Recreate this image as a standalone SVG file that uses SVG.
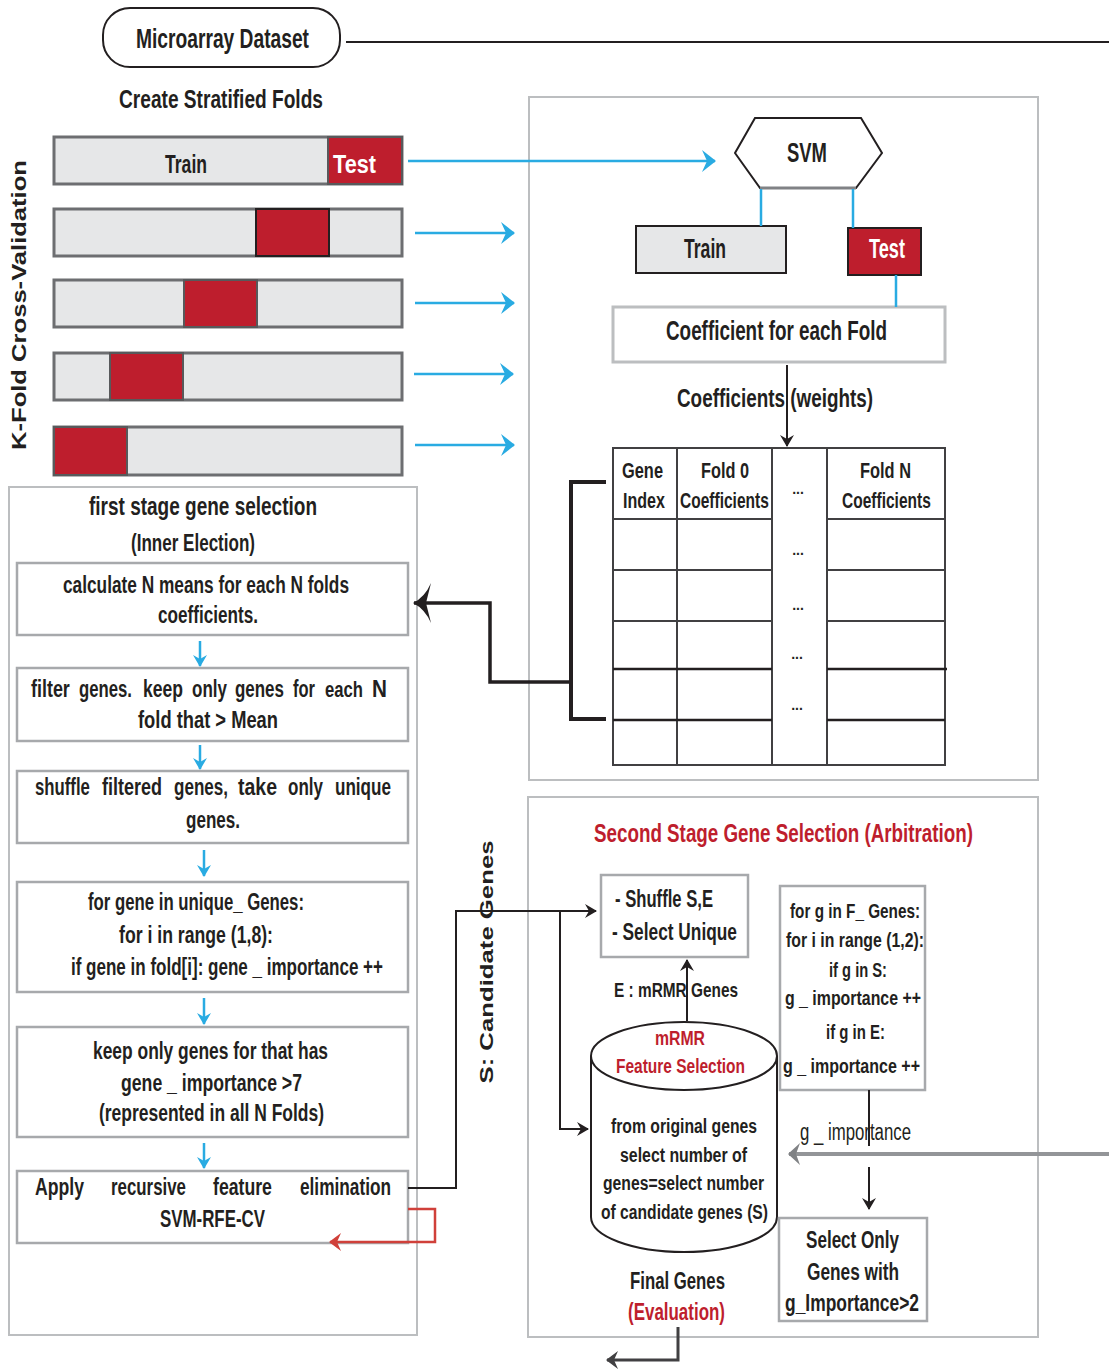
<svg xmlns="http://www.w3.org/2000/svg" width="1109" height="1371" viewBox="0 0 1109 1371">
<style>
.t{font-family:"Liberation Sans",Arial,sans-serif;font-weight:bold;fill:#231f20}
.n{font-weight:normal}
.w{fill:#ffffff}
.r{fill:#be1e2d}
.panel{fill:#ffffff;stroke:#bcbec0;stroke-width:2}
.box{fill:#ffffff;stroke:#a7a9ac;stroke-width:2.5}
.bar{fill:#e6e7e8;stroke:#6d6e71;stroke-width:3}
.red{fill:#be1e2d;stroke:#58595b;stroke-width:2}
.blue{stroke:#29abe2;stroke-width:2.5;fill:none}
.blk{stroke:#231f20;stroke-width:2;fill:none}
.tbl{stroke:#414042;stroke-width:2;fill:none}
</style>
<defs>
<marker id="ab" markerUnits="userSpaceOnUse" viewBox="0 0 14 22" refX="13" refY="11" markerWidth="14" markerHeight="22" orient="auto"><path d="M0,0 L14,11 L0,22 L5,11 z" fill="#29abe2"/></marker>
<marker id="as" markerUnits="userSpaceOnUse" viewBox="0 0 12 14" refX="11" refY="7" markerWidth="12" markerHeight="14" orient="auto"><path d="M0,0 L12,7 L0,14 L4,7 z" fill="#29abe2"/></marker>
<marker id="ak" markerUnits="userSpaceOnUse" viewBox="0 0 12 14" refX="11" refY="7" markerWidth="12" markerHeight="14" orient="auto"><path d="M0,0 L12,7 L0,14 L4,7 z" fill="#231f20"/></marker>
<marker id="akb" markerUnits="userSpaceOnUse" viewBox="0 0 18 40" refX="17" refY="20" markerWidth="18" markerHeight="40" orient="auto"><path d="M0,0 Q6,14 18,20 Q6,26 0,40 L5,20 z" fill="#231f20"/></marker>
<marker id="ar" markerUnits="userSpaceOnUse" viewBox="0 0 12 18" refX="11" refY="9" markerWidth="12" markerHeight="18" orient="auto"><path d="M0,0 L12,9 L0,18 L4,9 z" fill="#d0403a"/></marker>
<marker id="ag" markerUnits="userSpaceOnUse" viewBox="0 0 12 22" refX="11" refY="11" markerWidth="12" markerHeight="22" orient="auto"><path d="M0,0 L12,11 L0,22 L4,11 z" fill="#808285"/></marker>
<marker id="ad" markerUnits="userSpaceOnUse" viewBox="0 0 12 18" refX="11" refY="9" markerWidth="12" markerHeight="18" orient="auto"><path d="M0,0 L12,9 L0,18 L4,9 z" fill="#414042"/></marker>
</defs>

<!-- panels -->
<rect id="panel-svm" class="panel" x="529" y="97" width="509" height="683"/>
<rect id="panel-first" class="panel" x="9" y="487" width="408" height="848"/>
<rect id="panel-second" class="panel" x="528" y="797" width="510" height="540"/>

<g id="dataset">
<rect x="103" y="8" width="237" height="59" rx="27" fill="#ffffff" stroke="#231f20" stroke-width="2"/>
<text class="t" x="136" y="48" font-size="27" textLength="173" lengthAdjust="spacingAndGlyphs">Microarray Dataset</text>
</g>
<text class="t" x="119" y="108" font-size="25" textLength="204" lengthAdjust="spacingAndGlyphs">Create Stratified Folds</text>
<text class="t" transform="translate(26,305) rotate(-90)" text-anchor="middle" font-size="20" textLength="290" lengthAdjust="spacingAndGlyphs">K-Fold Cross-Validation</text>

<g id="fold1">
<rect class="bar" x="54" y="137" width="348" height="47"/>
<rect class="red" x="328" y="137" width="74" height="47"/>
<text class="t" x="165" y="173" font-size="25" textLength="42" lengthAdjust="spacingAndGlyphs">Train</text>
<text class="t w" x="333" y="173" font-size="25" textLength="43" lengthAdjust="spacingAndGlyphs">Test</text>
</g>
<g id="fold2">
<rect class="bar" x="54" y="209" width="348" height="47"/>
<rect x="256" y="209" width="73" height="47" fill="#be1e2d" stroke="#231f20" stroke-width="2"/>
</g>
<g id="fold3">
<rect class="bar" x="54" y="280" width="348" height="47"/>
<rect class="red" x="184" y="280" width="73" height="47"/>
</g>
<g id="fold4">
<rect class="bar" x="54" y="353" width="348" height="47"/>
<rect class="red" x="110" y="353" width="73" height="47"/>
</g>
<g id="fold5">
<rect class="bar" x="54" y="427" width="348" height="48"/>
<rect class="red" x="54" y="427" width="73" height="48"/>
</g>

<g id="svm">
<polygon points="735,153 755,118 861,118 882,153 856,188 760,188" fill="#ffffff" stroke="#231f20" stroke-width="2"/>
<line x1="760" y1="188" x2="856" y2="188" stroke="#808285" stroke-width="3"/>
<text class="t" x="787" y="162" font-size="28" textLength="40" lengthAdjust="spacingAndGlyphs">SVM</text>
</g>
<g id="svm-train">
<rect x="636" y="226" width="150" height="47" fill="#e6e7e8" stroke="#231f20" stroke-width="2"/>
<text class="t" x="684" y="258" font-size="27" textLength="42" lengthAdjust="spacingAndGlyphs">Train</text>
</g>
<g id="svm-test">
<rect x="848" y="228" width="73" height="47" fill="#be1e2d" stroke="#231f20" stroke-width="2"/>
<text class="t w" x="869" y="258" font-size="27" textLength="36" lengthAdjust="spacingAndGlyphs">Test</text>
</g>
<g id="coef">
<rect x="613" y="307" width="332" height="55" fill="#ffffff" stroke="#bcbec0" stroke-width="3"/>
<text class="t" x="666" y="340" font-size="27" textLength="221" lengthAdjust="spacingAndGlyphs">Coefficient for each Fold</text>
</g>
<text class="t" x="677" y="407" font-size="26" textLength="196" lengthAdjust="spacingAndGlyphs">Coefficients (weights)</text>

<g id="table">
<rect class="tbl" x="613" y="448" width="332" height="317" fill="#ffffff"/>
<line class="tbl" x1="677" y1="448" x2="677" y2="765"/>
<line class="tbl" x1="772" y1="448" x2="772" y2="765"/>
<line class="tbl" x1="827" y1="448" x2="827" y2="765"/>
<path class="tbl" d="M613,519 H772 M827,519 H945 M613,570 H772 M827,570 H945 M613,621 H772 M827,621 H945"/>
<path d="M613,669 H772 M827,669 H947 M613,720 H772 M827,720 H945" stroke="#231f20" stroke-width="2.5" fill="none"/>
<text class="t" x="622" y="478" font-size="22" textLength="41" lengthAdjust="spacingAndGlyphs">Gene</text>
<text class="t" x="623" y="508" font-size="22" textLength="42" lengthAdjust="spacingAndGlyphs">Index</text>
<text class="t" x="701" y="478" font-size="22" textLength="48" lengthAdjust="spacingAndGlyphs">Fold 0</text>
<text class="t" transform="translate(680,508) scale(0.706,1)" font-size="22">Coefficients</text>
<text class="t" x="860" y="478" font-size="22" textLength="51" lengthAdjust="spacingAndGlyphs">Fold N</text>
<text class="t" transform="translate(842,508) scale(0.706,1)" font-size="22">Coefficients</text>
<g font-size="14" text-anchor="middle">
<text class="t" x="798" y="494">...</text>
<text class="t" x="798" y="555">...</text>
<text class="t" x="798" y="610">...</text>
<text class="t" x="797" y="659">...</text>
<text class="t" x="797" y="710">...</text>
</g>
</g>

<!-- first stage -->
<text class="t" x="89" y="515" font-size="25" textLength="228" lengthAdjust="spacingAndGlyphs">first stage gene selection</text>
<text class="t" x="131" y="551" font-size="24" textLength="124" lengthAdjust="spacingAndGlyphs">(Inner Election)</text>
<g id="step1">
<rect class="box" x="17" y="563" width="391" height="72"/>
<text class="t" x="63" y="593" font-size="23" textLength="286" lengthAdjust="spacingAndGlyphs">calculate N means for each N folds</text>
<text class="t" x="158" y="623" font-size="23" textLength="100" lengthAdjust="spacingAndGlyphs">coefficients.</text>
</g>
<g id="step2" font-size="23">
<rect class="box" x="17" y="668" width="391" height="73"/>
<text class="t" transform="translate(31,697) scale(0.78,1)">filter</text>
<text class="t" transform="translate(79,697) scale(0.727,1)">genes.</text>
<text class="t" transform="translate(143,697) scale(0.763,1)">keep</text>
<text class="t" transform="translate(192,697) scale(0.74,1)">only</text>
<text class="t" transform="translate(235,697) scale(0.737,1)">genes</text>
<text class="t" transform="translate(293,697) scale(0.717,1)">for</text>
<text class="t" transform="translate(325,697) scale(0.725,1)">each</text>
<text class="t" transform="translate(372,697) scale(0.9,1)">N</text>
<text class="t" x="138" y="728" textLength="140" lengthAdjust="spacingAndGlyphs">fold that &gt; Mean</text>
</g>
<g id="step3" font-size="23">
<rect class="box" x="17" y="771" width="391" height="72"/>
<text class="t" transform="translate(35,795) scale(0.729,1)">shuffle</text>
<text class="t" transform="translate(102,795) scale(0.782,1)">filtered</text>
<text class="t" transform="translate(174,795) scale(0.741,1)">genes,</text>
<text class="t" transform="translate(238,795) scale(0.848,1)">take</text>
<text class="t" transform="translate(288,795) scale(0.74,1)">only</text>
<text class="t" transform="translate(335,795) scale(0.743,1)">unique</text>
<text class="t" x="186" y="828" textLength="54" lengthAdjust="spacingAndGlyphs">genes.</text>
</g>
<g id="step4">
<rect class="box" x="17" y="882" width="391" height="110"/>
<g font-size="23">
<text class="t" x="88" y="910" textLength="216" lengthAdjust="spacingAndGlyphs">for gene in unique_ Genes:</text>
<text class="t" x="119" y="943" textLength="154" lengthAdjust="spacingAndGlyphs">for i in range (1,8):</text>
<text class="t" x="71" y="975" textLength="312" lengthAdjust="spacingAndGlyphs">if gene in fold[i]: gene _ importance ++</text>
</g>
</g>
<g id="step5">
<rect class="box" x="17" y="1027" width="391" height="110"/>
<g font-size="23">
<text class="t" x="93" y="1059" textLength="235" lengthAdjust="spacingAndGlyphs">keep only genes for that has</text>
<text class="t" x="121" y="1091" textLength="181" lengthAdjust="spacingAndGlyphs">gene _ importance &gt;7</text>
<text class="t" x="99" y="1121" textLength="225" lengthAdjust="spacingAndGlyphs">(represented in all N Folds)</text>
</g>
</g>
<g id="step6" font-size="23">
<rect class="box" x="17" y="1171" width="391" height="72"/>
<text class="t" transform="translate(35,1195) scale(0.767,1)">Apply</text>
<text class="t" transform="translate(111,1195) scale(0.733,1)">recursive</text>
<text class="t" transform="translate(213,1195) scale(0.769,1)">feature</text>
<text class="t" transform="translate(300,1195) scale(0.75,1)">elimination</text>
<text class="t" x="160" y="1227" textLength="105" lengthAdjust="spacingAndGlyphs">SVM-RFE-CV</text>
</g>

<text class="t" transform="translate(493,962) rotate(-90)" text-anchor="middle" font-size="18" textLength="243" lengthAdjust="spacingAndGlyphs">S:  Candidate  Genes</text>

<!-- second stage -->
<text class="t r" x="594" y="842" font-size="25" textLength="379" lengthAdjust="spacingAndGlyphs">Second Stage Gene Selection (Arbitration)</text>
<g id="shuffle">
<rect class="box" x="601" y="875" width="147" height="82" stroke-width="2"/>
<text class="t" x="615" y="907" font-size="23" textLength="98" lengthAdjust="spacingAndGlyphs">- Shuffle S,E</text>
<text class="t" x="612" y="940" font-size="23" textLength="125" lengthAdjust="spacingAndGlyphs">- Select Unique</text>
</g>
<text class="t" x="614" y="997" font-size="21" textLength="124" lengthAdjust="spacingAndGlyphs">E : mRMR Genes</text>
<g id="mrmr">
<path d="M591,1056 L591,1217 A93,35 0 0 0 777,1217 L777,1056" fill="#ffffff" stroke="#231f20" stroke-width="2"/>
<ellipse cx="684" cy="1056" rx="93" ry="34" fill="#ffffff" stroke="#231f20" stroke-width="2"/>
<text class="t r" x="655" y="1045" font-size="21" textLength="50" lengthAdjust="spacingAndGlyphs">mRMR</text>
<text class="t r" x="616" y="1073" font-size="21" textLength="129" lengthAdjust="spacingAndGlyphs">Feature Selection</text>
<g font-size="20">
<text class="t" x="611" y="1133" textLength="146" lengthAdjust="spacingAndGlyphs">from original genes</text>
<text class="t" x="620" y="1162" textLength="127" lengthAdjust="spacingAndGlyphs">select number of</text>
<text class="t" x="603" y="1190" textLength="161" lengthAdjust="spacingAndGlyphs">genes=select number</text>
<text class="t" x="601" y="1219" textLength="167" lengthAdjust="spacingAndGlyphs">of candidate genes (S)</text>
</g>
</g>
<g id="fgenes">
<rect class="box" x="780" y="886" width="145" height="204" stroke-width="2"/>
<g font-size="21">
<text class="t" x="790" y="918" textLength="130" lengthAdjust="spacingAndGlyphs">for g in F_ Genes:</text>
<text class="t" x="786" y="947" textLength="138" lengthAdjust="spacingAndGlyphs">for i in range (1,2):</text>
<text class="t" x="829" y="977" textLength="58" lengthAdjust="spacingAndGlyphs">if g in S:</text>
<text class="t" x="785" y="1005" textLength="136" lengthAdjust="spacingAndGlyphs">g _ importance ++</text>
<text class="t" x="826" y="1039" textLength="59" lengthAdjust="spacingAndGlyphs">if g in E:</text>
<text class="t" x="783" y="1073" textLength="137" lengthAdjust="spacingAndGlyphs">g _ importance ++</text>
</g>
</g>
<text class="t n" x="800" y="1140" font-size="23" textLength="111" lengthAdjust="spacingAndGlyphs">g _ importance</text>
<g id="selectonly">
<rect class="box" x="779" y="1218" width="148" height="103" stroke-width="2"/>
<text class="t" x="806" y="1248" font-size="23" textLength="93" lengthAdjust="spacingAndGlyphs">Select Only</text>
<text class="t" x="807" y="1280" font-size="23" textLength="92" lengthAdjust="spacingAndGlyphs">Genes with</text>
<text class="t" x="785" y="1311" font-size="23" textLength="134" lengthAdjust="spacingAndGlyphs">g_Importance&gt;2</text>
</g>
<g id="final">
<text class="t" x="630" y="1289" font-size="23" textLength="95" lengthAdjust="spacingAndGlyphs">Final Genes</text>
<text class="t r" x="628" y="1320" font-size="23" textLength="97" lengthAdjust="spacingAndGlyphs">(Evaluation)</text>
</g>

<g id="connectors">
<line x1="346" y1="42" x2="1109" y2="42" stroke="#231f20" stroke-width="2"/>
<line class="blue" x1="408" y1="161" x2="715" y2="161" marker-end="url(#ab)"/>
<line class="blue" x1="415" y1="233" x2="514" y2="233" marker-end="url(#ab)"/>
<line class="blue" x1="415" y1="303" x2="514" y2="303" marker-end="url(#ab)"/>
<line class="blue" x1="414" y1="374" x2="513" y2="374" marker-end="url(#ab)"/>
<line class="blue" x1="415" y1="445" x2="514" y2="445" marker-end="url(#ab)"/>
<line class="blue" x1="761" y1="189" x2="761" y2="226"/>
<line class="blue" x1="853" y1="189" x2="853" y2="228"/>
<line class="blue" x1="896" y1="275" x2="896" y2="307"/>
<line class="blk" x1="787" y1="365" x2="787" y2="446" marker-end="url(#ak)"/>
<path d="M606,482 H571 V719 H606" stroke="#231f20" stroke-width="4" fill="none"/>
<path d="M571,682 H490 V603 H414" stroke="#231f20" stroke-width="3.5" fill="none" marker-end="url(#akb)"/>
<line class="blue" x1="200" y1="641" x2="200" y2="666" stroke-width="2" marker-end="url(#as)"/>
<line class="blue" x1="200" y1="745" x2="200" y2="769" stroke-width="2" marker-end="url(#as)"/>
<line class="blue" x1="204" y1="850" x2="204" y2="876" stroke-width="2" marker-end="url(#as)"/>
<line class="blue" x1="204" y1="998" x2="204" y2="1024" stroke-width="2" marker-end="url(#as)"/>
<line class="blue" x1="204" y1="1143" x2="204" y2="1168" stroke-width="2" marker-end="url(#as)"/>
<path d="M408,1188 H456 V911 H596" stroke="#231f20" stroke-width="2" fill="none" marker-end="url(#ak)"/>
<path d="M560,911 V1129 H588" stroke="#231f20" stroke-width="2" fill="none" marker-end="url(#ak)"/>
<path d="M408,1209 H435 V1242 H330" stroke="#d0403a" stroke-width="2.5" fill="none" marker-end="url(#ar)"/>
<line class="blk" x1="687" y1="1021" x2="687" y2="960" marker-end="url(#ak)"/>
<line class="blk" x1="869" y1="1090" x2="869" y2="1146"/>
<line class="blk" x1="869" y1="1167" x2="869" y2="1209" marker-end="url(#ak)"/>
<line x1="1109" y1="1154" x2="789" y2="1154" stroke="#939598" stroke-width="4" marker-end="url(#ag)"/>
<path d="M678,1327 V1360 H607" stroke="#414042" stroke-width="3" fill="none" marker-end="url(#ad)"/>
</g>
</svg>
